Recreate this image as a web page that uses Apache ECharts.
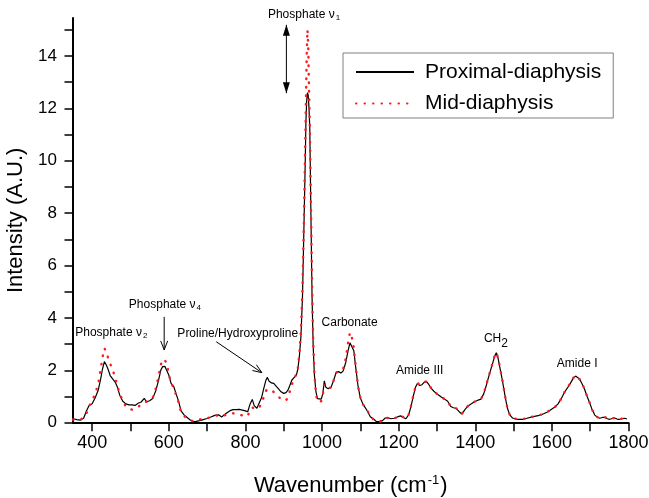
<!DOCTYPE html>
<html>
<head>
<meta charset="utf-8">
<script src="https://cdn.jsdelivr.net/npm/echarts@6/dist/echarts.min.js"></script>
<style>html,body{margin:0;padding:0;background:#fff}#main{width:649px;height:498px}</style>
</head>
<body>
<div id="main"></div>
<script>
// Wavenumber grid (cm^-1)
const wavenumbers = [350,360,370,378,385,392,400,408,416,422,427,432,437,442,447,453,460,466,472,480,488,496,504,512,520,528,536,542,550,558,566,573,579,584,590,595,600,606,613,619,625,632,640,648,656,664,672,680,690,700,710,720,730,738,745,752,760,768,776,784,792,800,806,812,818,823,830,836,842,848,853,857,862,868,874,880,886,893,900,906,911,916,921,927,933,937,941,945,949,953,956,958,960,962,964,966,968,971,974,977,980,984,988,993,998,1002,1006,1010,1016,1023,1030,1037,1043,1049,1055,1062,1068,1073,1078,1083,1088,1094,1100,1107,1114,1120,1126,1131,1136,1142,1150,1158,1165,1172,1180,1189,1197,1205,1212,1219,1226,1232,1238,1244,1249,1255,1261,1267,1273,1279,1285,1292,1298,1305,1312,1320,1328,1336,1343,1350,1358,1365,1373,1381,1390,1398,1407,1415,1422,1428,1434,1440,1446,1451,1455,1459,1463,1467,1471,1475,1479,1484,1490,1497,1505,1515,1525,1535,1546,1558,1570,1580,1590,1600,1608,1616,1623,1630,1637,1644,1650,1656,1662,1668,1674,1680,1686,1692,1699,1705,1712,1718,1725,1732,1738,1745,1751,1758,1764,1770,1777,1784,1790,1796];
// Proximal-diaphysis intensity
const proximal = [0.15,0.12,0.10,0.18,0.45,0.66,0.72,0.95,1.25,1.65,2.05,2.33,2.20,2.02,1.80,1.68,1.55,1.35,1.05,0.82,0.72,0.68,0.68,0.66,0.74,0.79,0.93,0.80,0.84,0.92,1.22,1.60,2.00,2.14,2.15,2.12,1.82,1.50,1.38,1.10,0.85,0.45,0.30,0.20,0.10,0.04,0.05,0.08,0.12,0.16,0.22,0.28,0.30,0.22,0.30,0.38,0.46,0.50,0.50,0.51,0.48,0.45,0.42,0.70,0.89,0.65,0.55,0.75,0.95,1.31,1.60,1.73,1.58,1.52,1.50,1.40,1.30,1.18,1.12,1.15,1.24,1.42,1.62,1.72,1.82,2.05,2.55,3.30,4.80,7.60,9.80,11.50,12.30,12.60,12.50,12.00,11.30,8.00,4.80,2.90,1.85,1.20,0.92,0.88,0.90,1.10,1.60,1.35,1.30,1.33,1.60,1.92,1.95,1.90,1.97,2.30,2.75,3.05,3.00,2.75,2.10,1.40,0.95,0.70,0.55,0.40,0.23,0.30,0.12,0.04,0.04,0.08,0.18,0.19,0.15,0.17,0.22,0.26,0.20,0.15,0.30,0.60,1.00,1.35,1.50,1.42,1.45,1.55,1.57,1.45,1.31,1.20,1.12,1.05,0.97,0.90,0.82,0.62,0.57,0.55,0.42,0.33,0.50,0.64,0.72,0.80,0.86,0.90,1.10,1.38,1.70,2.01,2.30,2.55,2.67,2.50,2.20,1.90,1.60,1.25,0.92,0.55,0.30,0.18,0.14,0.13,0.13,0.17,0.21,0.25,0.29,0.35,0.42,0.52,0.60,0.72,0.88,1.08,1.25,1.40,1.55,1.70,1.78,1.72,1.62,1.45,1.25,1.00,0.74,0.50,0.29,0.22,0.17,0.20,0.20,0.15,0.13,0.16,0.18,0.14,0.13,0.16,0.17,0.14];
// Mid-diaphysis intensity
const mid = [0.12,0.10,0.12,0.20,0.35,0.62,0.85,1.10,1.50,2.00,2.50,2.84,2.72,2.45,2.25,2.05,1.72,1.40,1.12,0.82,0.62,0.53,0.50,0.52,0.60,0.70,0.78,0.80,0.86,0.95,1.30,1.75,2.20,2.42,2.38,2.25,1.88,1.50,1.35,1.05,0.80,0.40,0.25,0.18,0.10,0.05,0.08,0.12,0.15,0.17,0.22,0.27,0.28,0.25,0.28,0.30,0.33,0.36,0.33,0.30,0.28,0.27,0.25,0.50,0.58,0.55,0.52,0.58,0.72,0.99,1.20,1.28,1.25,1.24,1.17,1.10,1.00,0.90,0.84,0.86,0.95,1.20,1.45,1.68,1.85,2.10,2.65,3.50,5.10,7.90,10.40,12.20,14.00,15.00,14.40,12.80,11.50,8.40,5.20,3.10,1.90,1.10,0.80,0.75,0.82,1.05,1.45,1.30,1.30,1.35,1.60,1.90,1.98,2.00,2.05,2.45,3.05,3.45,3.25,2.85,2.15,1.40,0.95,0.70,0.55,0.42,0.25,0.28,0.10,0.05,0.03,0.10,0.20,0.18,0.14,0.18,0.20,0.28,0.22,0.16,0.30,0.62,1.02,1.38,1.52,1.45,1.48,1.55,1.58,1.45,1.32,1.20,1.12,1.06,0.98,0.90,0.82,0.62,0.58,0.55,0.43,0.34,0.50,0.64,0.73,0.80,0.87,0.90,1.12,1.40,1.72,2.02,2.32,2.58,2.68,2.50,2.22,1.92,1.62,1.25,0.92,0.55,0.30,0.18,0.15,0.13,0.14,0.17,0.22,0.26,0.30,0.35,0.43,0.52,0.60,0.73,0.88,1.10,1.26,1.42,1.55,1.71,1.80,1.74,1.63,1.46,1.26,1.00,0.75,0.50,0.30,0.22,0.17,0.20,0.22,0.15,0.14,0.17,0.18,0.15,0.14,0.16,0.17,0.14];

const seriesNames = ['Proximal-diaphysis', 'Mid-diaphysis'];
const xTickValues = [400,500,600,700,800,900,1000,1100,1200,1300,1400,1500,1600,1700,1800];
const xLabelValues = [400,600,800,1000,1200,1400,1600,1800];
const yTickValues = [0,1,2,3,4,5,6,7,8,9,10,11,12,13,14,15];
const yLabelValues = [0,2,4,6,8,10,12,14];

// Annotations (text anchored in data coordinates)
const annotations = [
  {text: '{a|Phosphate ν}{s|1}', wn: 953, v: 15.57},
  {text: '{a|Phosphate ν}{s|4}', wn: 590, v: 4.49},
  {text: '{a|Phosphate ν}{s|2}', wn: 450, v: 3.43},
  {text: '{a|Proline/Hydroxyproline}', wn: 780, v: 3.38},
  {text: '{a|Carbonate}', wn: 1072, v: 3.82},
  {text: '{a|CH}{s2|2}', wn: 1454, v: 3.2},
  {text: '{a|Amide III}', wn: 1255, v: 1.99},
  {text: '{a|Amide I}', wn: 1666, v: 2.24}
];
// arrows in data coordinates
const arrows = [
  {from: [907, 12.58], to: [907, 15.19], kind: 'double'},
  {from: [588, 4.04], to: [588, 2.78], kind: 'open'},
  {from: [724, 3.09], to: [843, 1.91], kind: 'open'}
];

const FONT = '"Liberation Sans", Arial, sans-serif';
const chart = echarts.init(document.getElementById('main'));
const plain = v => String(v);

const option = {
  animation: false,
  backgroundColor: '#fff',
  grid: {left: 73, right: 20.5, top: 18, bottom: 75.3, outerBoundsMode: 'none', containLabel: false},
  legend: {
    orient: 'vertical', left: 343, top: 53,
    padding: [8.5, 12, 4, 12], itemGap: 10.5, itemWidth: 58, itemHeight: 14,
    borderColor: '#808080', borderWidth: 1, backgroundColor: '#fff',
    itemStyle: {color: 'rgba(0,0,0,0)', borderWidth: 0, opacity: 0},
    textStyle: {fontSize: 21, fontFamily: FONT, color: '#000', padding: [0, 0, 0, 6]},
    data: seriesNames
  },
  xAxis: {
    type: 'value', min: 350, max: 1800,
    name: '{m|Wavenumber (cm}{sup|-1}{m|)}',
    nameLocation: 'middle', nameGap: 51,
    nameTextStyle: {fontFamily: FONT, color: '#000', rich: {
      m: {fontSize: 22, fontFamily: FONT, color: '#000', lineHeight: 24},
      sup: {fontSize: 13, fontFamily: FONT, color: '#000', verticalAlign: 'top', lineHeight: 24, padding: [0, 1, 10, 1]}
    }},
    splitLine: {show: false},
    axisLine: {lineStyle: {color: '#000', width: 2}},
    axisTick: {length: 8.5, lineStyle: {color: '#000', width: 1.5}, customValues: xTickValues},
    axisLabel: {fontSize: 18, fontFamily: FONT, color: '#000', margin: 11, customValues: xLabelValues, formatter: plain}
  },
  yAxis: {
    type: 'value', min: 0, max: 15.45,
    name: 'Intensity (A.U.)', nameLocation: 'middle', nameGap: 44, nameRotate: 90,
    nameTextStyle: {fontSize: 22, fontFamily: FONT, color: '#000'},
    splitLine: {show: false},
    axisLine: {show: true, lineStyle: {color: '#000', width: 2}},
    axisTick: {show: true, length: 8.5, lineStyle: {color: '#000', width: 1.5}, customValues: yTickValues},
    axisLabel: {fontSize: 17, fontFamily: FONT, color: '#000', margin: 16, customValues: yLabelValues, formatter: plain}
  },
  series: [
    {
      name: seriesNames[0], type: 'line', symbol: 'none',
      data: wavenumbers.map((w, i) => [w, proximal[i]]),
      lineStyle: {color: '#000', width: 1.2},
      itemStyle: {color: '#000'}
    },
    {
      name: seriesNames[1], type: 'line', symbol: 'none',
      data: wavenumbers.map((w, i) => [w, mid[i]]),
      lineStyle: {color: '#ff1a1a', width: 2.4, type: [0.5, 8], cap: 'round'},
      itemStyle: {color: '#ff1a1a'}
    }
  ]
};
chart.setOption(option);

function px(p) { return chart.convertToPixel({gridIndex: 0}, p); }
const rich = {
  a: {fontSize: 12, fontFamily: FONT, fill: '#000', color: '#000'},
  s: {fontSize: 8, fontFamily: FONT, fill: '#000', color: '#000', verticalAlign: 'bottom', padding: [6, 0, 0, 1]},
  s2: {fontSize: 12, fontFamily: FONT, fill: '#000', color: '#000', padding: [10, 0, 0, 0]}
};
const graphics = [];
annotations.forEach(a => {
  const p = px([a.wn, a.v]);
  graphics.push({type: 'text', x: p[0], y: p[1], z: 100, style: {
    text: a.text, rich: rich, align: 'center', verticalAlign: 'middle', fill: '#000'
  }});
});
arrows.forEach(a => {
  const p0 = px(a.from), p1 = px(a.to);
  graphics.push({type: 'line', z: 100, shape: {x1: p0[0], y1: p0[1], x2: p1[0], y2: p1[1]}, style: {stroke: '#000', lineWidth: 1}});
  const heads = a.kind === 'double' ? [[p0, p1], [p1, p0]] : [[p0, p1]];
  heads.forEach(([s, t]) => {
    const dx = t[0] - s[0], dy = t[1] - s[1];
    const L = Math.hypot(dx, dy), ux = dx / L, uy = dy / L;
    const len = a.kind === 'double' ? 11 : 9, hw = 3.5;
    const bx = t[0] - ux * len, by = t[1] - uy * len;
    const l = [bx - uy * hw, by + ux * hw], r = [bx + uy * hw, by - ux * hw];
    if (a.kind === 'double') {
      graphics.push({type: 'polygon', z: 100, shape: {points: [t, l, r]}, style: {fill: '#000'}});
    } else {
      graphics.push({type: 'polyline', z: 100, shape: {points: [l, t, r]}, style: {stroke: '#000', lineWidth: 1, fill: null}});
    }
  });
});
chart.setOption({graphic: graphics});
</script>
</body>
</html>
